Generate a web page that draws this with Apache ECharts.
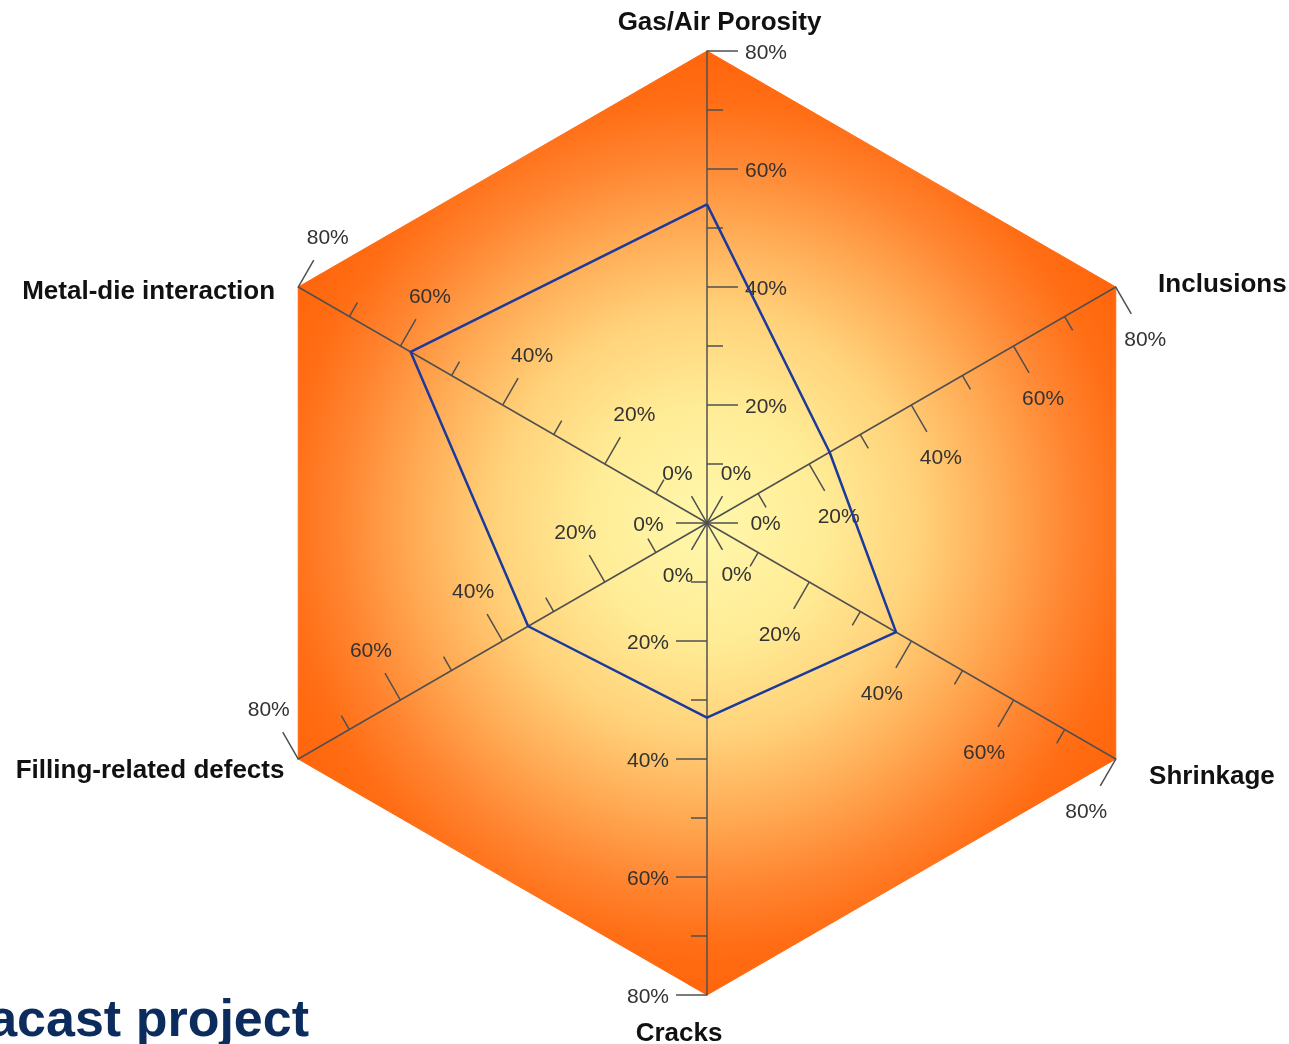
<!DOCTYPE html>
<html>
<head>
<meta charset="utf-8">
<script src="https://cdn.jsdelivr.net/npm/echarts@6/dist/echarts.min.js"></script>
<style>
  html, body { margin: 0; padding: 0; background: #ffffff; }
  #chart { width: 1289px; height: 1044px; }
</style>
</head>
<body>
<div id="chart"></div>
<script>
// Defect categories, listed counter-clockwise from the top axis
const categories = [
  'Gas/Air Porosity',
  'Metal-die interaction',
  'Filling-related defects',
  'Cracks',
  'Shrinkage',
  'Inclusions'
];
// Share of each defect type (%)
const defectShare = [54, 58, 35, 33, 37, 24];
// Axis range and the labelled tick positions with their texts
const axisMin = 0;
const axisMax = 80;
const tickLabelValues = [10, 20, 40, 60, 80];
const tickLabelTexts = ['0%', '20%', '40%', '60%', '80%'];

// ---- styling ----
const FONT = '"Liberation Sans", Arial, Helvetica, sans-serif';
const AXIS_GREY = '#505050';
// per-axis distance of the category names from the axis end
const nameGaps = [15, -9, 24, 15, 35, 5];
// per-axis padding of the category names [top, right, bottom, left]
const namePadding = [
  [0, 0, 0, 25],
  [0, 31, 0, 0],
  [0, -7, 0, 0],
  [11, 56, 0, 0],
  [0, 0, 0, 3],
  [0, 0, 0, 38]
];
// per-axis padding that tucks the first tick label closer to its axis
const firstLabelPadding = [
  [16, 60, 0, 0],
  [60, 16, 0, 0],
  [44, 0, 0, 44],
  [0, 0, 16, 60],
  [0, 0, 60, 16],
  [0, 44, 44, 0]
];

const chart = echarts.init(document.getElementById('chart'), null, { renderer: 'canvas' });

const CX = 707, CY = 523, R = 472;
const bgGradient = new echarts.graphic.RadialGradient(CX, CY, R, [
  { offset: 0.0, color: '#fff8ac' },
  { offset: 0.25, color: '#ffec96' },
  { offset: 0.45, color: '#ffd27a' },
  { offset: 0.62, color: '#ffab55' },
  { offset: 0.78, color: '#ff8430' },
  { offset: 0.9, color: '#ff6d14' },
  { offset: 1.0, color: '#ff650c' }
], true);

const indicator = categories.map((name, i) => ({
  name: name,
  min: axisMin,
  max: axisMax,
  nameGap: nameGaps[i],
  nameTextStyle: { padding: namePadding[i] },
  axisLabel: {
    rich: {
      z: { padding: firstLabelPadding[i], fontSize: 21, color: '#333333', fontFamily: FONT }
    }
  },
  minorTick: {
    show: true,
    splitNumber: 2,
    length: -16,
    lineStyle: { color: AXIS_GREY, width: 1.5 }
  }
}));

const option = {
  animation: false,
  backgroundColor: '#ffffff',
  radar: {
    center: [CX, CY],
    radius: R,
    startAngle: 90,
    shape: 'polygon',
    splitNumber: 4,
    nameGap: 15,
    indicator: indicator,
    axisName: {
      color: '#111111',
      fontSize: 26,
      fontWeight: 'bold',
      fontFamily: FONT
    },
    axisLine: { show: true, lineStyle: { color: AXIS_GREY, width: 1.5 } },
    axisTick: { show: true, length: -31, lineStyle: { color: AXIS_GREY, width: 1.5 } },
    axisLabel: {
      show: true,
      customValues: tickLabelValues,
      margin: -59,
      align: 'center',
      verticalAlign: 'middle',
      padding: [4, 0, 0, 0],
      color: '#333333',
      fontSize: 21,
      fontFamily: FONT,
      formatter: function (v) {
        const idx = tickLabelValues.indexOf(v);
        if (idx < 0) return '';
        return idx === 0 ? '{z|' + tickLabelTexts[idx] + '}' : tickLabelTexts[idx];
      }
    },
    splitLine: { show: true, lineStyle: { color: bgGradient, width: 1 } },
    splitArea: { show: true, areaStyle: { color: [bgGradient] } }
  },
  series: [{
    type: 'radar',
    silent: true,
    symbol: 'none',
    lineStyle: { color: '#1b3a9c', width: 2.5 },
    data: [{ name: 'Defects', value: defectShare }]
  }],
  graphic: [{
    type: 'text',
    x: 309,
    y: 1022,
    silent: true,
    style: {
      text: 'acast project',
      font: 'bold 52px ' + FONT,
      fill: '#0c2c5e',
      align: 'right',
      verticalAlign: 'middle'
    }
  }]
};

chart.setOption(option);
</script>
</body>
</html>
